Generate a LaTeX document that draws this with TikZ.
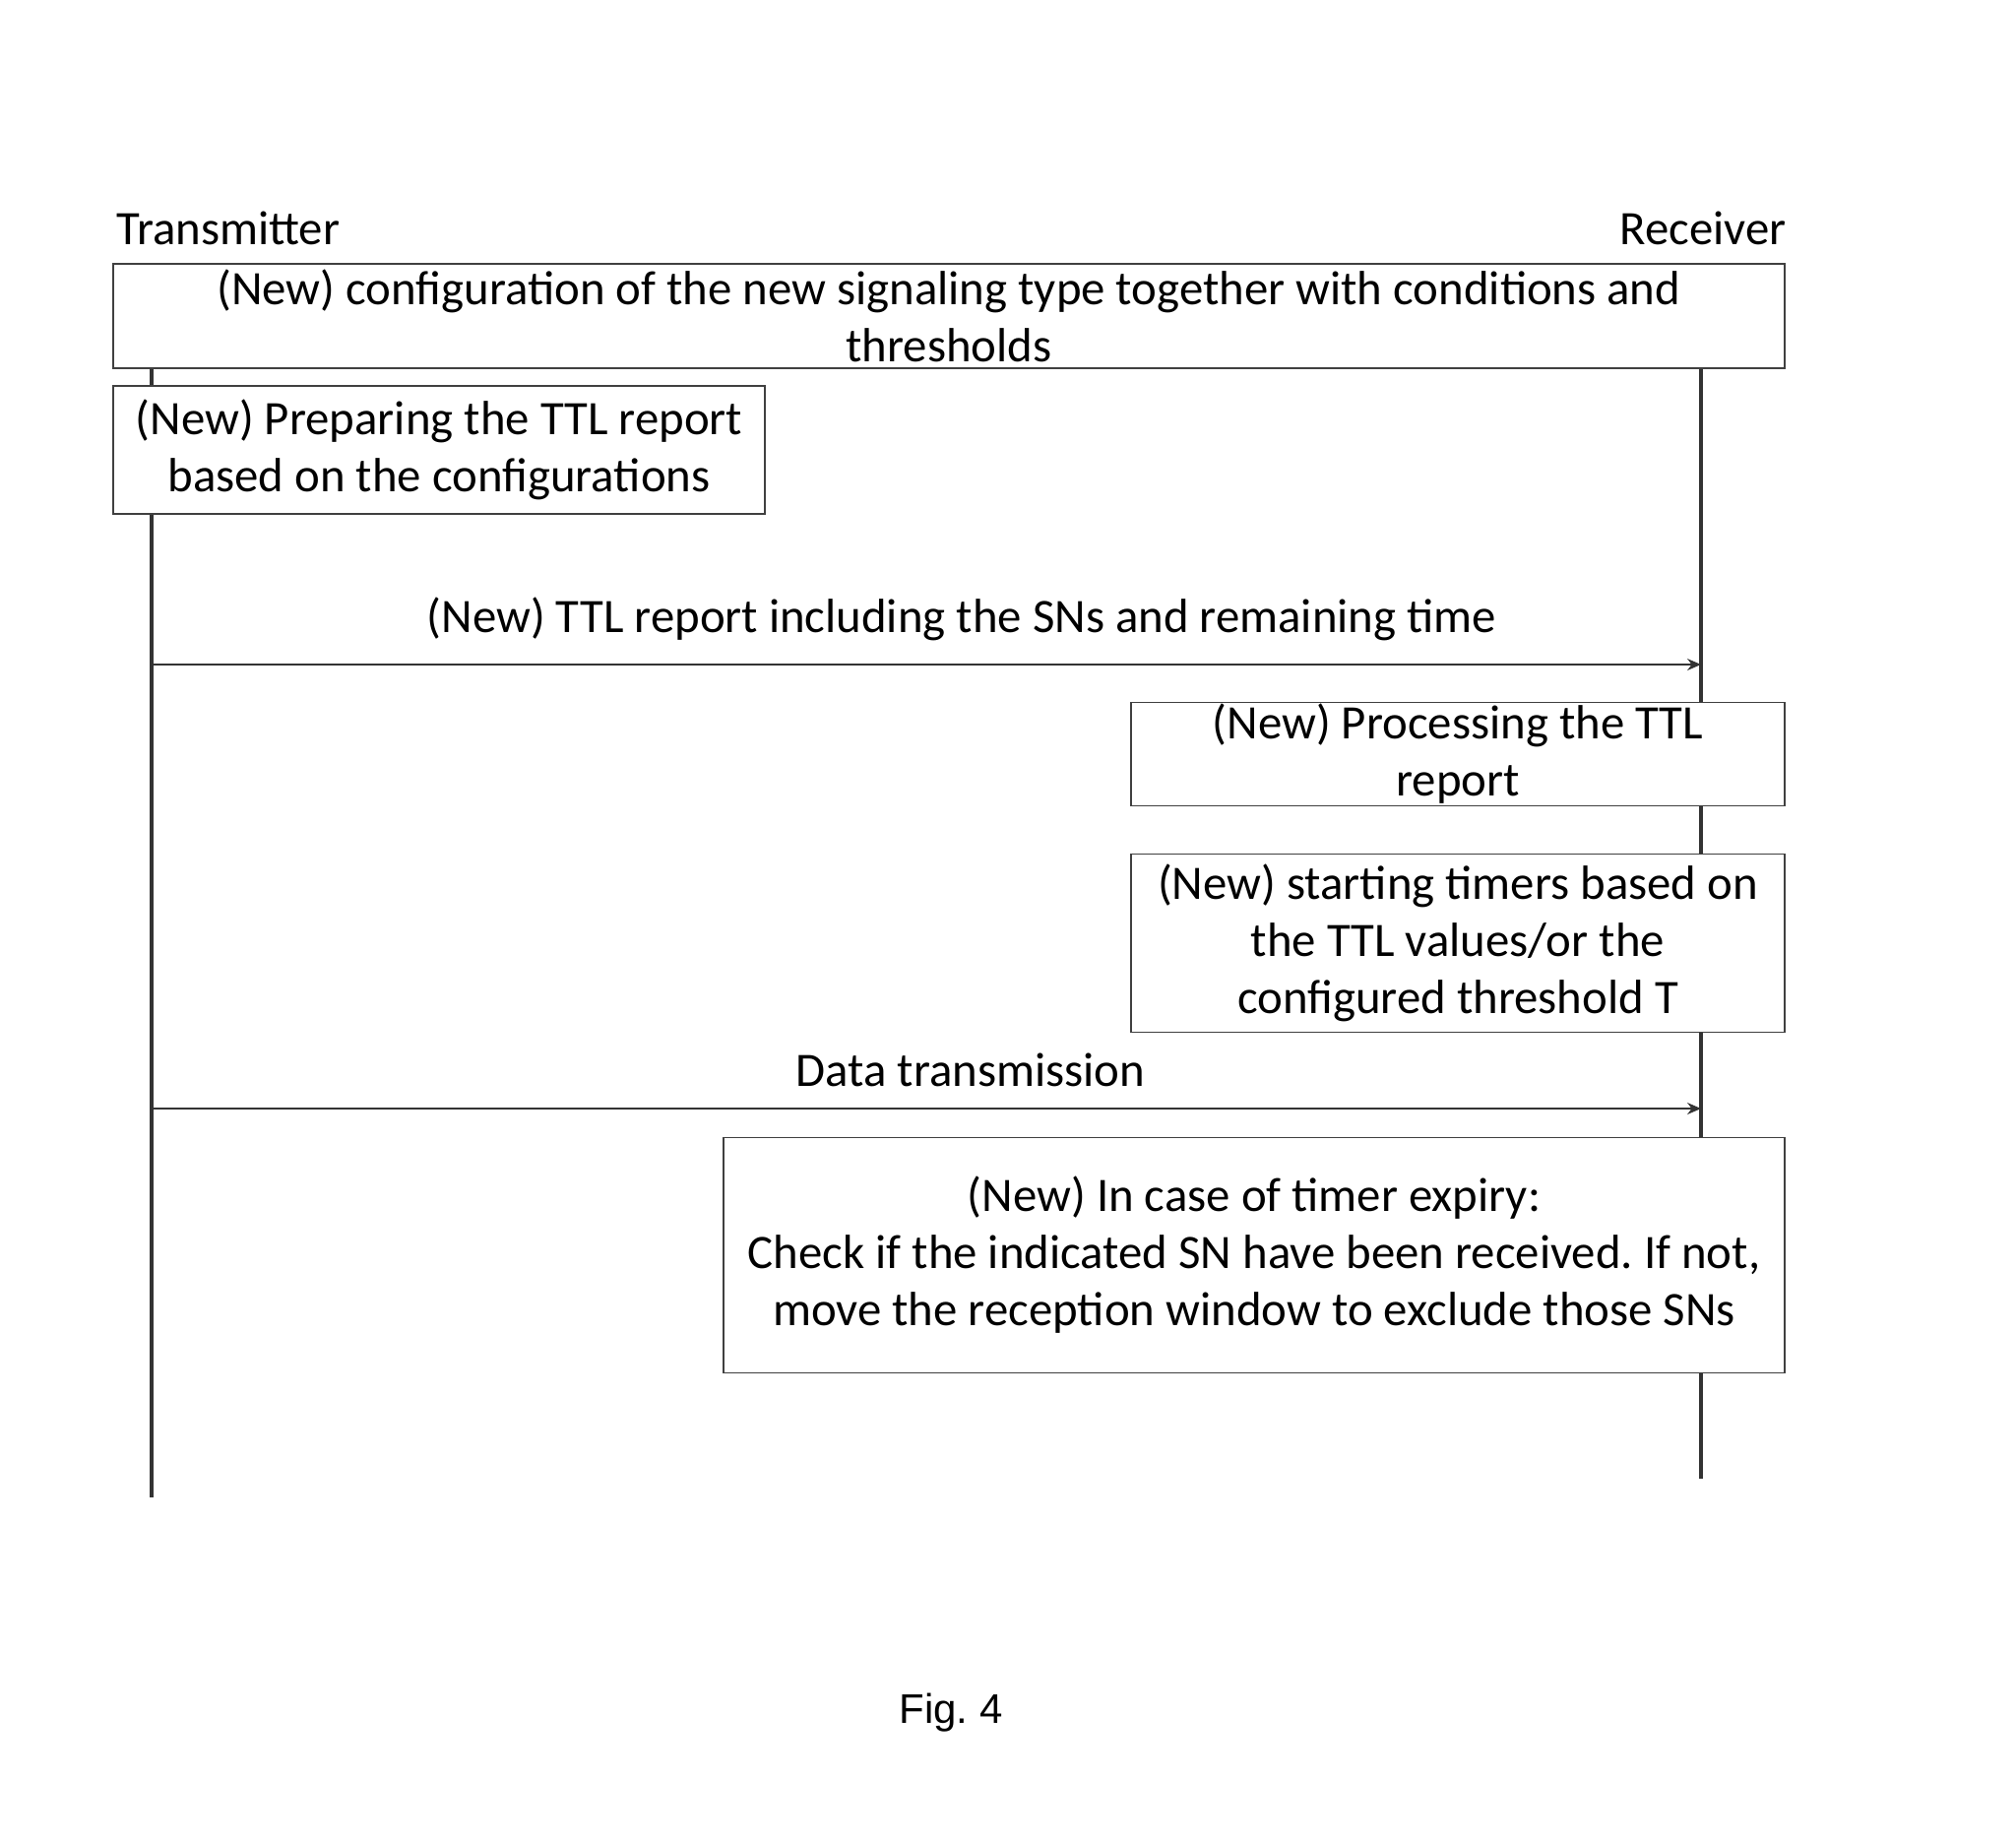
\documentclass[tikz,border=0pt]{standalone}
\usepackage{fontspec}
\setmainfont{Carlito}
\newfontfamily\figfont{Liberation Sans}
\usetikzlibrary{arrows.meta}
\frenchspacing
\begin{document}
\begin{tikzpicture}[x=0.5pt,y=-0.5pt,
  box/.style={draw=black!75,line width=0.6pt,fill=white,inner sep=0pt,align=center,font=\fontsize{24.4}{29}\selectfont},
  lbl/.style={font=\fontsize{24.4}{29}\selectfont,inner sep=0pt},
  life/.style={draw=black!80,line width=1.6pt},
  msg/.style={draw=black!80,line width=0.6pt,-{Stealth[length=7pt,width=6pt]}}]
\useasboundingbox (0,0) rectangle (2048,1869);
% lifeline ends
\coordinate (ttop) at (154,374);
\coordinate (tbot) at (154,1521);
\coordinate (rtop) at (1728,374);
\coordinate (rbot) at (1728,1502);
\draw[life] (ttop) -- (tbot);
\draw[life] (rtop) -- (rbot);
% headers
\node[lbl,anchor=base west] (tx) at (118,248) {Transmitter};
\node[lbl,anchor=base east] (rx) at (1815,248) {Receiver};
% boxes
\node[box,minimum width=849pt,minimum height=53pt] (cfg) at (964,321)
  {(New) configuration of the new signaling type together with conditions and\\thresholds};
\node[box,minimum width=331pt,minimum height=65pt] (prep) at (446,457)
  {(New) Preparing the TTL report\\based on the configurations};
\node[box,minimum width=332pt,minimum height=52.5pt] (proc) at (1481,766)
  {(New) Processing the TTL\\report};
\node[box,minimum width=332pt,minimum height=90.5pt] (timer) at (1481,958)
  {(New) starting timers based on\\the TTL values/or the\\configured threshold T};
\node[box,minimum width=539pt,minimum height=119.5pt] (exp) at (1274,1275)
  {(New) In case of timer expiry:\\Check if the indicated SN have been received. If not,\\move the reception window to exclude those SNs};
% messages
\coordinate (t1) at (154,675);
\coordinate (r1) at (1728,675);
\coordinate (t2) at (154,1126);
\coordinate (r2) at (1728,1126);
\draw[msg] (t1) -- (r1);
\draw[msg] (t2) -- (r2);
\node[lbl] (m1) at (977,629) {(New) TTL report including the SNs and remaining time};
\node[lbl] (m2) at (986,1087) {Data transmission};
\node[lbl,font=\figfont\fontsize{21}{25}\selectfont] (fig) at (966,1740) {Fig.\ 4};
\end{tikzpicture}
\end{document}
